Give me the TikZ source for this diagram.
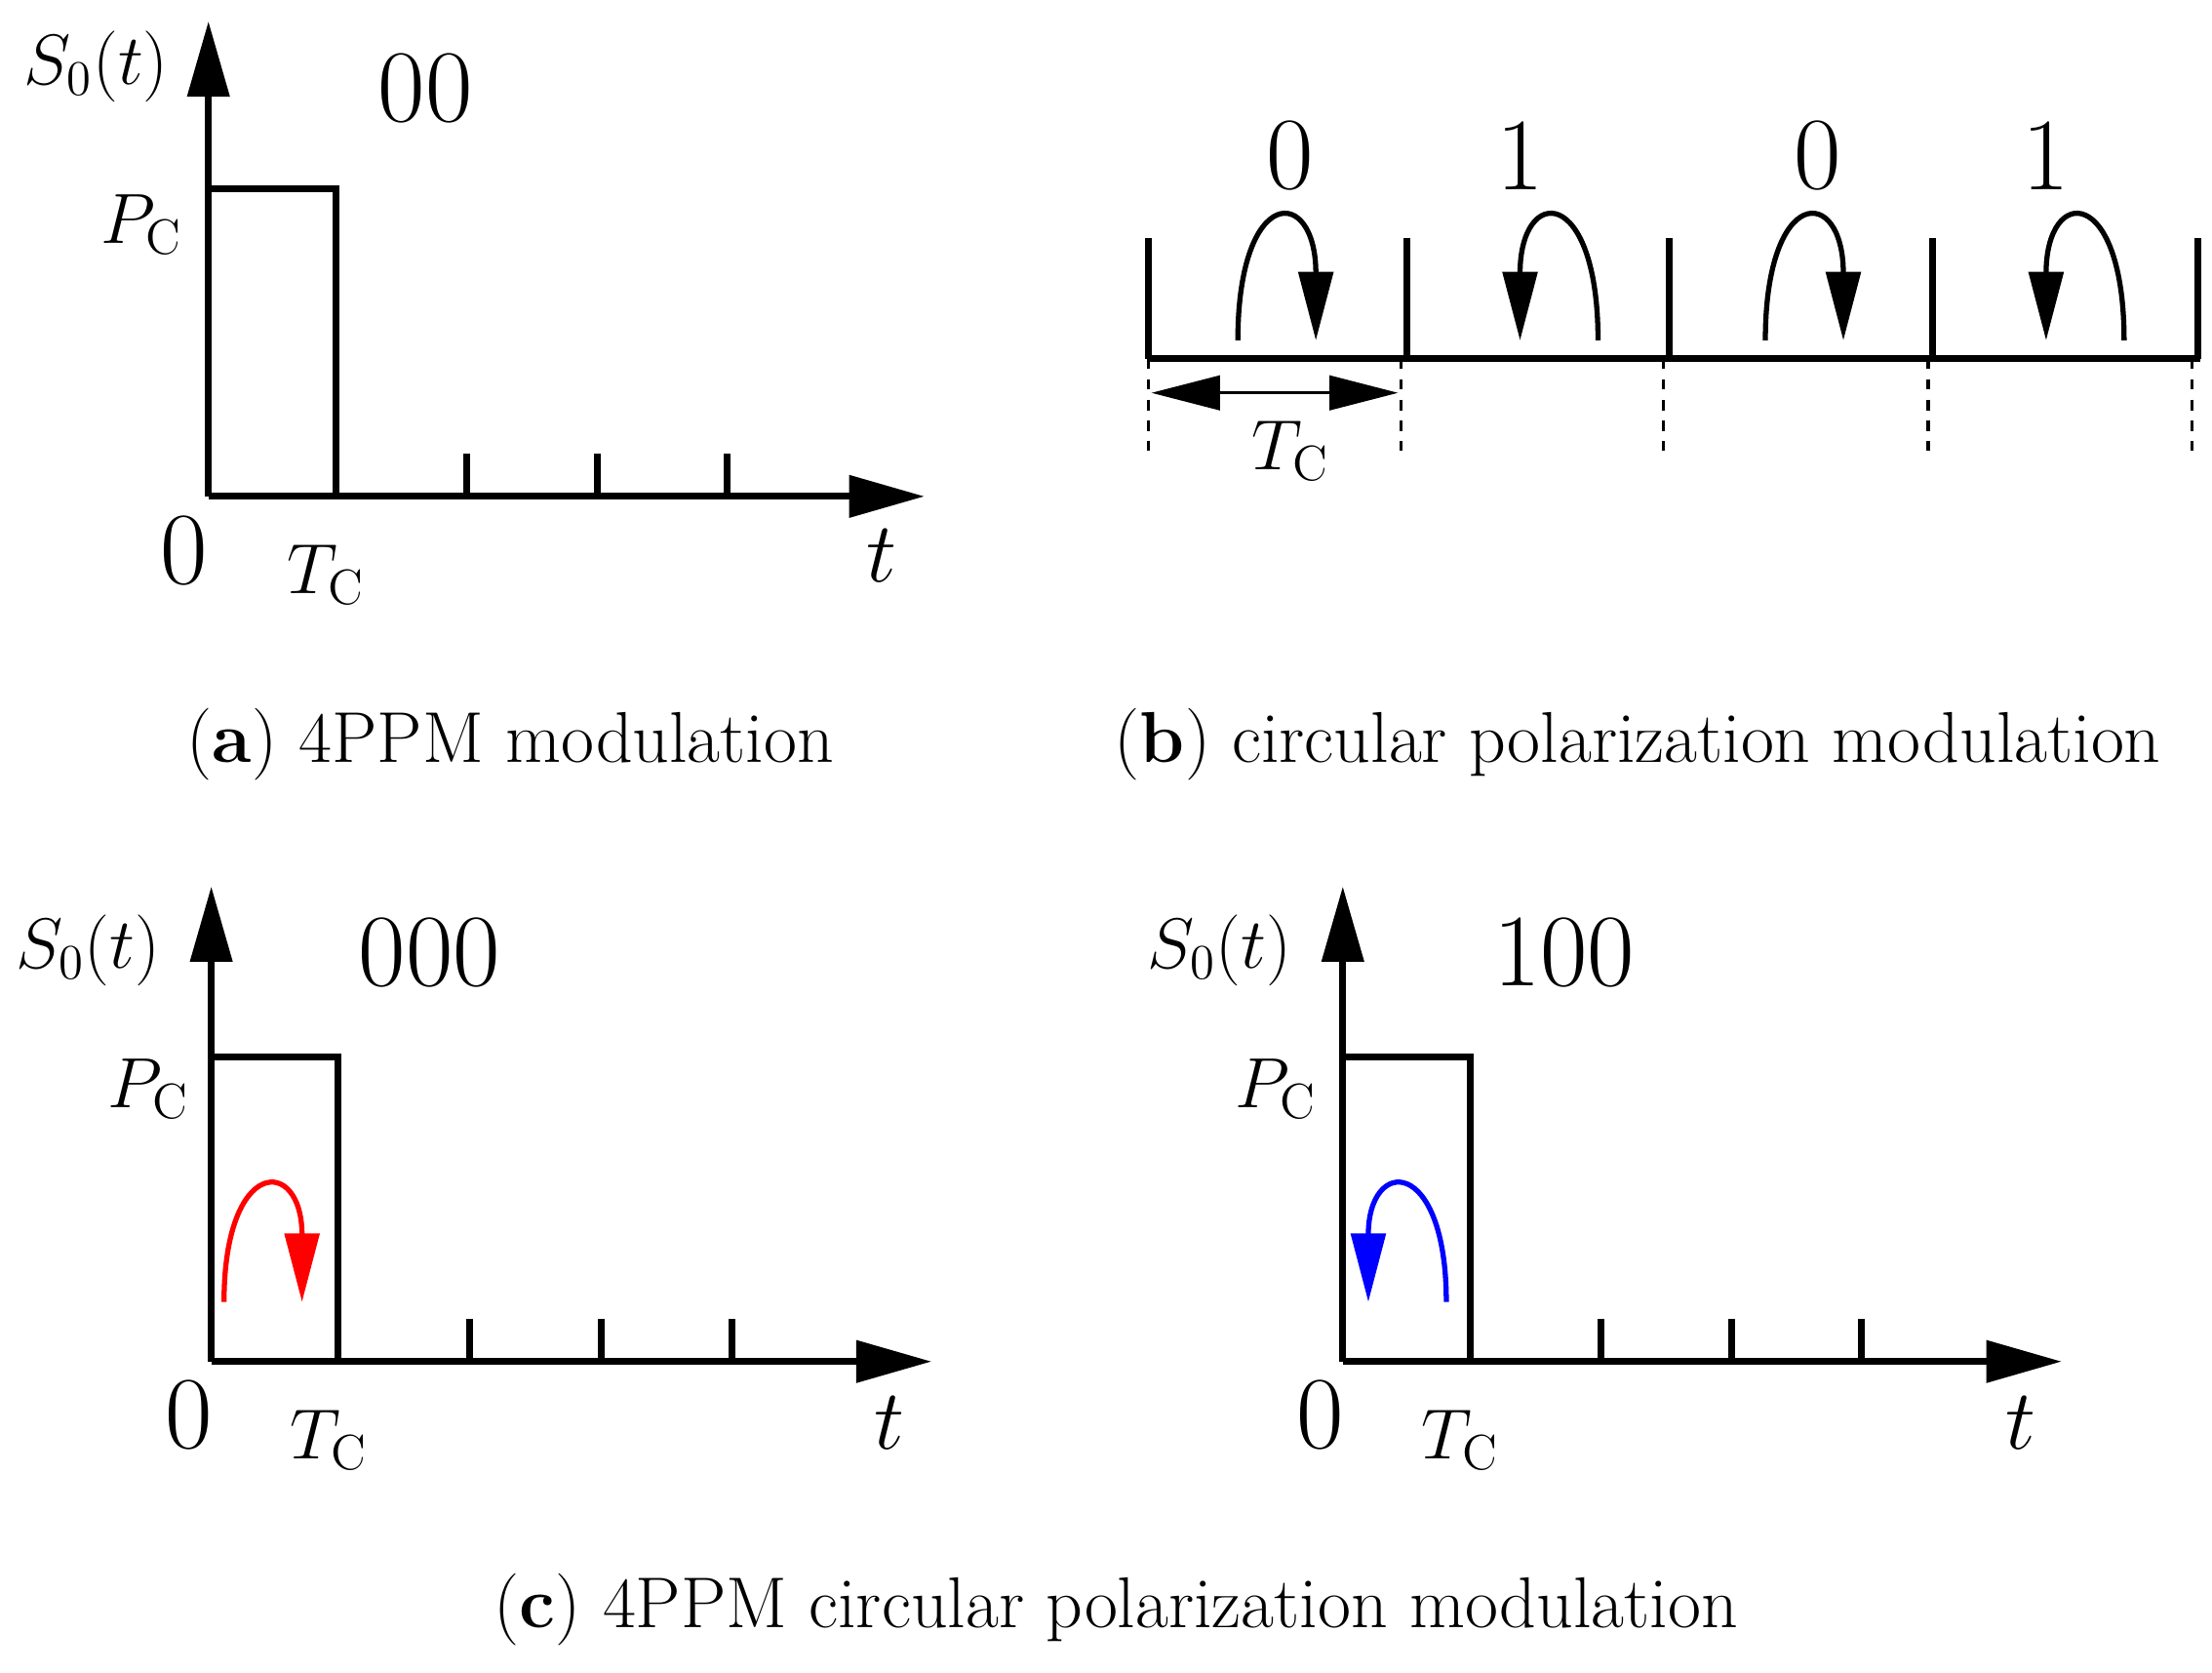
\documentclass[tikz,border=0pt]{standalone}
\usetikzlibrary{arrows.meta}
\tikzset{
  ax/.style={line width=2pt,-{Triangle[length=22pt,width=12pt]}},
  ln/.style={line width=2pt},
  rot/.style={line width=1.5pt,-{Triangle[length=20pt,width=10pt]}},
  lbl/.style={font=\fontsize{21}{25}\selectfont},
  big/.style={font=\fontsize{30}{34}\selectfont},
}
\begin{document}
\begin{tikzpicture}[x=0.01454cm,y=-0.01454cm]
\useasboundingbox (0,0) rectangle (1560,1179);
%(a) 4PPM
\coordinate (ao) at (147,350);
\draw[ax] (ao)--(147,15);
\draw[ax] (ao)--(652,350);
\draw[ln] (147,133)--(237,133)--(237,350);
\foreach \x in {329,421,513} \draw[ln] (\x,320)--(\x,350);
\node[lbl] (as) at (68,47) {$S_0(t)$};
\node[big] (ac) at (300,62) {00};
\node[lbl] (ap) at (100,158) {$P_{\mathrm{C}}$};
\node[big] (az) at (130,388) {0};
\node[lbl] (at) at (230,405) {$T_{\mathrm{C}}$};
\node[font=\fontsize{40}{44}\selectfont] (ate) at (622,392) {$t$};
\node[lbl] (capa) at (360,525) {(\textbf{a}) 4PPM modulation};
%(b) circular polarization
\draw[ln] (810,253)--(1552,253);
\foreach \x in {810,992,1177,1363,1550} \draw[ln] (\x,168)--(\x,253);
\foreach \x in {810,988,1173,1360,1546} \draw[dashed,line width=1pt] (\x,253)--(\x,318);
\draw[line width=1pt,{Triangle[length=20pt,width=10pt]}-{Triangle[length=20pt,width=10pt]}] (812,277)--(986,277);
\node[lbl] (bt) at (910,318) {$T_{\mathrm{C}}$};
\foreach \x/\d in {910/0,1072/1,1282/0,1443/1} \node[big] at (\x,110) {\d};
\foreach \a/\b in {873/928,1245/1300,1127/1072,1498/1443}
  \draw[rot] (\a,240) .. controls (\a,130) and (\b,130) .. (\b,240);
\node[lbl] (capb) at (1155,525) {(\textbf{b}) circular polarization modulation};
%(c) left
\draw[ax] (149,960)--(149,625);
\draw[ax] (149,960)--(657,960);
\draw[ln] (149,745)--(238,745)--(238,960);
\foreach \x in {331,424,516} \draw[ln] (\x,930)--(\x,960);
\node[lbl] (cs) at (62,670) {$S_0(t)$};
\node[big] (cc) at (303,672) {000};
\node[lbl] (cp) at (105,768) {$P_{\mathrm{C}}$};
\node[big] (cz) at (133,998) {0};
\node[lbl] (ct) at (232,1015) {$T_{\mathrm{C}}$};
\node[font=\fontsize{40}{44}\selectfont] (cte) at (627,1003) {$t$};
\draw[rot,red] (158,918) .. controls (158,815) and (213,815) .. (213,918);
%(c) right
\draw[ax] (947,960)--(947,625);
\draw[ax] (947,960)--(1454,960);
\draw[ln] (947,745)--(1037,745)--(1037,960);
\foreach \x in {1129,1221,1313} \draw[ln] (\x,930)--(\x,960);
\node[lbl] (ds) at (860,670) {$S_0(t)$};
\node[big] (dc) at (1103,672) {100};
\node[lbl] (dp) at (900,768) {$P_{\mathrm{C}}$};
\node[big] (dz) at (931,998) {0};
\node[lbl] (dt) at (1030,1015) {$T_{\mathrm{C}}$};
\node[font=\fontsize{40}{44}\selectfont] (dte) at (1425,1003) {$t$};
\draw[rot,blue] (1020,918) .. controls (1020,815) and (965,815) .. (965,918);
\node[lbl] (capc) at (787,1135) {(\textbf{c}) 4PPM circular polarization modulation};
\end{tikzpicture}
\end{document}
